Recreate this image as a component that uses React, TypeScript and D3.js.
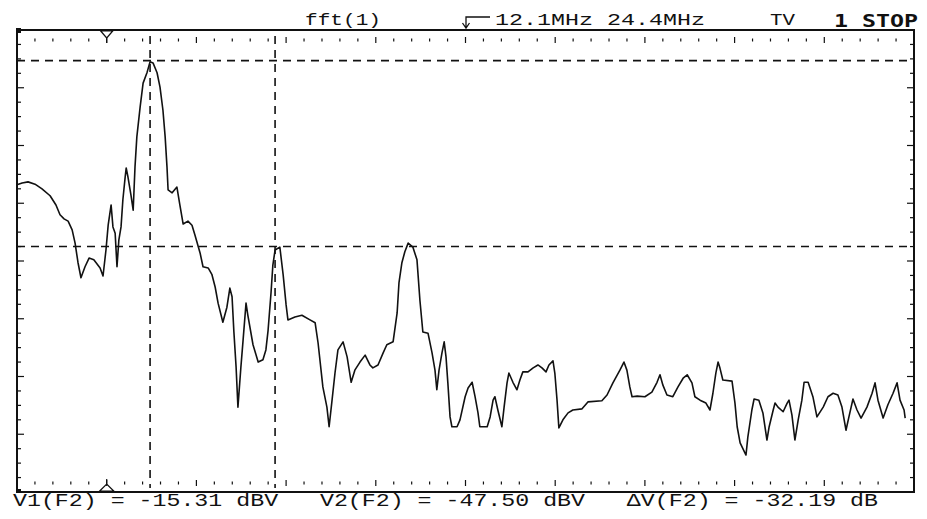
import React from "react";
import * as d3 from "d3";

const W = 927;
const H = 519;

// Trace (frequency in MHz, level in dBV)
const freqMHz = [
  -0.1, 0.04, 0.2, 0.39, 0.58, 0.8, 0.96, 1.07, 1.18, 1.29, 1.4, 1.48, 1.56, 1.64, 1.75, 1.86, 1.99, 2.16, 2.24, 2.32,
  2.38, 2.46, 2.51, 2.57, 2.62, 2.67, 2.73, 2.78, 2.84, 2.87, 2.92, 3.0, 3.06, 3.11, 3.16, 3.25, 3.33, 3.44, 3.52, 3.6,
  3.71, 3.79, 3.87, 3.93, 3.98, 4.01, 4.12, 4.25, 4.33, 4.42, 4.55, 4.66, 4.74, 4.88, 4.96, 5.1, 5.2, 5.29, 5.37, 5.5,
  5.61, 5.69, 5.75, 5.8, 5.86, 5.91, 5.99, 6.05, 6.13, 6.18, 6.32, 6.46, 6.59, 6.67, 6.73, 6.81, 6.86, 6.92, 7.05, 7.14,
  7.22, 7.27, 7.46, 7.65, 7.87, 8.01, 8.09, 8.22, 8.33, 8.39, 8.47, 8.55, 8.63, 8.77, 8.88, 8.99, 9.09, 9.23, 9.37, 9.5,
  9.58, 9.72, 9.86, 9.96, 10.13, 10.24, 10.29, 10.37, 10.45, 10.54, 10.67, 10.78, 10.86, 10.94, 11.08, 11.19, 11.27, 11.32, 11.38, 11.46,
  11.52, 11.57, 11.62, 11.68, 11.73, 11.87, 11.95, 12.09, 12.17, 12.28, 12.36, 12.44, 12.49, 12.69, 12.77, 12.85, 12.9, 12.98, 13.09, 13.15,
  13.23, 13.28, 13.39, 13.5, 13.58, 13.66, 13.8, 13.94, 14.07, 14.18, 14.29, 14.37, 14.48, 14.53, 14.59, 14.64, 14.75, 14.89, 15.02, 15.27,
  15.43, 15.81, 15.95, 16.11, 16.3, 16.41, 16.49, 16.57, 16.63, 16.77, 16.98, 17.17, 17.31, 17.39, 17.47, 17.58, 17.74, 17.88, 18.02, 18.13,
  18.26, 18.34, 18.48, 18.64, 18.75, 18.83, 18.91, 18.97, 19.02, 19.1, 19.35, 19.43, 19.49, 19.57, 19.73, 19.78, 19.89, 19.95, 20.08, 20.19,
  20.3, 20.36, 20.47, 20.52, 20.6, 20.74, 20.85, 20.9, 20.98, 21.06, 21.15, 21.25, 21.31, 21.42, 21.55, 21.66, 21.83, 21.96, 22.1, 22.23,
  22.34, 22.45, 22.53, 22.64, 22.75, 22.86, 23.02, 23.16, 23.24, 23.32, 23.46, 23.59, 23.73, 23.84, 23.92, 24.03, 24.06,
];
const levelDBV = [
  -36.8, -36.5, -36.3, -36.7, -37.5, -38.7, -40.3, -42.0, -42.7, -43.1, -44.6, -46.9, -50.3, -52.9, -51.0, -49.5, -49.8, -51.2, -52.6, -48.1,
  -43.8, -40.3, -44.1, -45.2, -51.0, -46.4, -44.1, -39.4, -35.6, -33.9, -35.5, -38.6, -41.2, -33.7, -28.5, -23.3, -19.2, -17.3, -15.5, -15.7,
  -17.4, -19.9, -23.9, -28.5, -33.7, -37.7, -38.2, -37.2, -40.3, -43.6, -43.1, -43.8, -45.5, -48.6, -51.0, -51.2, -52.3, -54.5, -57.3, -60.6,
  -58.0, -54.7, -56.2, -62.3, -68.4, -75.3, -68.4, -63.7, -57.3, -59.4, -64.5, -67.5, -67.1, -65.4, -62.0, -55.5, -50.7, -48.1, -47.6, -52.4,
  -57.6, -60.2, -59.7, -59.4, -60.2, -60.7, -64.2, -71.8, -75.3, -78.7, -74.1, -69.4, -65.4, -64.0, -66.6, -71.0, -68.9, -67.5, -66.3, -68.0,
  -68.5, -68.0, -65.9, -64.5, -64.0, -59.0, -53.8, -50.3, -48.4, -46.9, -47.6, -49.8, -56.8, -62.3, -62.5, -65.9, -68.9, -72.3, -68.9, -65.9,
  -64.0, -66.6, -71.1, -77.0, -78.7, -78.7, -77.5, -73.5, -72.0, -71.0, -73.5, -76.3, -78.7, -78.7, -77.0, -74.1, -73.5, -75.8, -78.7, -75.3,
  -71.1, -69.4, -71.0, -72.3, -70.6, -69.2, -69.2, -68.5, -68.0, -68.5, -69.2, -68.0, -67.3, -69.4, -74.1, -78.9, -77.5, -76.3, -75.8, -75.6,
  -74.4, -74.2, -73.2, -71.1, -68.9, -67.5, -68.9, -71.8, -73.5, -73.4, -73.5, -72.7, -71.0, -69.7, -71.5, -73.2, -73.5, -71.8, -70.3, -69.7,
  -71.1, -73.5, -74.1, -74.6, -75.8, -72.9, -69.4, -67.5, -68.5, -70.6, -70.8, -74.6, -78.7, -81.5, -83.6, -80.5, -75.8, -73.9, -74.1, -76.3,
  -81.0, -78.7, -75.8, -74.6, -75.3, -76.1, -74.6, -74.1, -76.7, -81.0, -77.5, -74.1, -71.0, -71.0, -73.5, -77.0, -75.3, -73.5, -72.9, -73.2,
  -75.3, -79.3, -77.0, -73.9, -75.8, -77.2, -75.3, -72.9, -71.1, -74.1, -77.2, -74.9, -72.9, -71.1, -74.1, -75.8, -77.2,
];

// Cursors
const cursorFreqMHz = [3.52, 6.92];
const cursorLevelDBV = [-15.31, -47.5];
const triggerMHz = 2.34;

// Screen scale: center 12.1 MHz, span 24.4 MHz; 10 dB/div from -10 dBV
const xDomain = [-0.1, 24.3];
const yDomain = [-90, -10];
const xDivs = 10;
const yDivs = 8;

// Texts
const headerTitle = "fft(1)";
const headerFreqs = "12.1MHz 24.4MHz";
const headerMode = "TV";
const headerRun = "1 STOP";
const readout = "V1(F2) = -15.31 dBV   V2(F2) = -47.50 dBV   \u0394V(F2) = -32.19 dB";

const FONT = "'Liberation Mono', 'DejaVu Sans Mono', monospace";
const BOLDFONT = "'DejaVu Sans Mono', monospace";
const INK = "#111";

export default function App() {
  const left = 17, right = 914, top = 30, bottom = 492;
  const x = d3.scaleLinear().domain(xDomain).range([left, right]);
  const y = d3.scaleLinear().domain(yDomain).range([bottom, top]);

  const pts = freqMHz.map((f, i) => [f, levelDBV[i]] as [number, number]);
  const line = d3
    .line<[number, number]>()
    .x((d) => x(d[0]))
    .y((d) => y(d[1]))
    .curve(d3.curveLinear);

  const xStep = (xDomain[1] - xDomain[0]) / (xDivs * 5);
  const yStep = (yDomain[1] - yDomain[0]) / (yDivs * 4);
  const xTicks = d3.range(1, xDivs * 5).map((i) => ({ v: xDomain[0] + i * xStep, major: i % 5 === 0 }));
  const yTicks = d3.range(1, yDivs * 4).map((i) => ({ v: yDomain[0] + i * yStep, major: i % 4 === 0 }));

  const topRow = 40;
  const botRow = 483;
  const tx = x(triggerMHz);
  const pre = { whiteSpace: "pre" as const };

  return (
    <svg
      width={W}
      height={H}
      viewBox={`0 0 ${W} ${H}`}
      style={{ position: "absolute", left: 0, top: 0, background: "#fff" }}
    >
      <rect x={0} y={0} width={W} height={H} fill="#fff" />

      {/* Frame */}
      <rect x={left} y={top} width={right - left} height={bottom - top} fill="none" stroke={INK} strokeWidth={2} />
      <rect x={left - 1} y={top - 2} width={5} height={5} fill={INK} />
      <rect x={left - 1} y={bottom - 3} width={5} height={4} fill={INK} />

      {/* Top & bottom tick rows */}
      {xTicks.map((t, i) => (
        <g key={"xt" + i} stroke={INK} strokeWidth={1.2}>
          <line x1={x(t.v)} x2={x(t.v)} y1={topRow - (t.major ? 3 : 1.5)} y2={topRow + (t.major ? 3 : 1.5)} />
          <line x1={x(t.v)} x2={x(t.v)} y1={botRow - (t.major ? 3 : 1.5)} y2={botRow + (t.major ? 3 : 1.5)} />
        </g>
      ))}
      {/* Left & right border ticks */}
      {yTicks.map((t, i) => (
        <g key={"yt" + i} stroke={INK} strokeWidth={1.2}>
          <line x1={left} x2={left + (t.major ? 7 : 4)} y1={y(t.v)} y2={y(t.v)} />
          <line x1={right} x2={right - (t.major ? 7 : 4)} y1={y(t.v)} y2={y(t.v)} />
        </g>
      ))}

      {/* Trigger markers */}
      <path
        d={`M${tx - 6},${top + 1} L${tx + 6},${top + 1} L${tx},${top + 8} Z M${tx},${top + 8} L${tx},${top + 13}`}
        fill="none"
        stroke={INK}
        strokeWidth={1.2}
      />
      <path
        d={`M${tx - 7},${bottom - 1} L${tx + 7},${bottom - 1} L${tx},${bottom - 8} Z M${tx},${bottom - 8} L${tx},${bottom - 13}`}
        fill="none"
        stroke={INK}
        strokeWidth={1.2}
      />

      {/* Cursors */}
      {cursorLevelDBV.map((v, i) => (
        <line
          key={"hc" + i}
          x1={left}
          x2={right}
          y1={y(v)}
          y2={y(v)}
          stroke={INK}
          strokeWidth={1.6}
          strokeDasharray="8,6"
        />
      ))}
      {cursorFreqMHz.map((f, i) => (
        <line
          key={"vc" + i}
          x1={x(f)}
          x2={x(f)}
          y1={36}
          y2={488}
          stroke={INK}
          strokeWidth={1.6}
          strokeDasharray="8,6"
        />
      ))}

      {/* Trace */}
      <path d={line(pts) || ""} fill="none" stroke={INK} strokeWidth={1.6} strokeLinejoin="round" />

      {/* Header */}
      <text x={305} y={25} fontFamily={FONT} fontSize={17} fill={INK} textLength={76} lengthAdjust="spacingAndGlyphs">
        {headerTitle}
      </text>
      <path d="M466,27 L466,17 L490,17 M462.5,23 L466,28 L469.5,23" fill="none" stroke={INK} strokeWidth={1.3} />
      <text x={495} y={25} fontFamily={FONT} fontSize={17} fill={INK} textLength={210} lengthAdjust="spacingAndGlyphs" style={pre}>
        {headerFreqs}
      </text>
      <text x={770} y={25} fontFamily={FONT} fontSize={17} fill={INK} textLength={25} lengthAdjust="spacingAndGlyphs">
        {headerMode}
      </text>
      <text
        x={834}
        y={27}
        fontFamily={BOLDFONT}
        fontSize={18}
        fontWeight="bold"
        fill={INK}
        textLength={84}
        lengthAdjust="spacingAndGlyphs"
        style={pre}
      >
        {headerRun}
      </text>

      {/* Readout */}
      <text
        x={13}
        y={506}
        fontFamily={FONT}
        fontSize={17.5}
        fill={INK}
        textLength={865}
        lengthAdjust="spacingAndGlyphs"
        style={pre}
      >
        {readout}
      </text>
    </svg>
  );
}
